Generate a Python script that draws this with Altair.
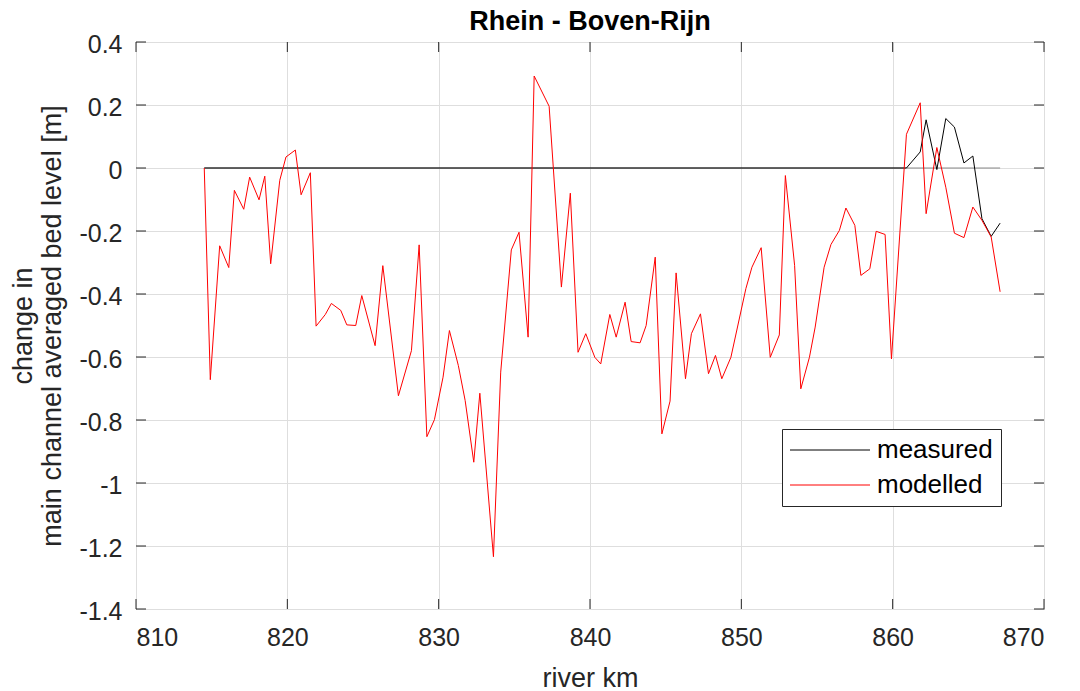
import altair as alt
import pandas as pd

# ---------------- data ----------------
km_model = [
    814.51, 814.91, 815.53, 816.13, 816.50, 817.12, 817.51, 818.13, 818.51, 818.90,
    819.50, 819.91, 820.53, 820.91, 821.52, 821.90, 822.51, 822.91, 823.53, 823.93,
    824.52, 824.92, 825.80, 826.31, 827.34, 828.20, 828.71, 829.22, 829.72, 830.29,
    830.71, 831.30, 831.75, 832.32, 832.72, 833.62, 834.10, 834.80, 835.31, 835.91,
    836.31, 837.30, 838.11, 838.70, 839.21, 839.72, 840.32, 840.71, 841.31, 841.73,
    842.32, 842.72, 843.31, 843.71, 844.31, 844.75, 845.29, 845.69, 846.31, 846.70,
    847.30, 847.83, 848.29, 848.71, 849.31, 850.30, 850.70, 851.31, 851.91, 852.51,
    852.91, 853.52, 853.93, 854.50, 854.88, 855.47, 855.92, 856.48, 856.91, 857.50,
    857.90, 858.49, 858.91, 859.50, 859.92, 860.91, 861.82, 862.21, 862.92, 863.51,
    864.08, 864.71, 865.30, 865.90, 866.51, 867.10,
]
val_model = [
    0.000, -0.672, -0.247, -0.316, -0.071, -0.131, -0.029, -0.101, -0.026, -0.304,
    -0.039, 0.035, 0.057, -0.085, -0.015, -0.502, -0.465, -0.430, -0.452, -0.498,
    -0.500, -0.405, -0.564, -0.310, -0.723, -0.580, -0.244, -0.853, -0.799, -0.664,
    -0.516, -0.627, -0.738, -0.934, -0.715, -1.234, -0.648, -0.260, -0.204, -0.537,
    0.292, 0.196, -0.378, -0.080, -0.585, -0.526, -0.601, -0.622, -0.465, -0.537,
    -0.426, -0.551, -0.555, -0.500, -0.283, -0.844, -0.740, -0.333, -0.669, -0.526,
    -0.463, -0.653, -0.595, -0.669, -0.601, -0.383, -0.315, -0.253, -0.601, -0.530,
    -0.024, -0.309, -0.701, -0.601, -0.505, -0.315, -0.243, -0.198, -0.127, -0.182,
    -0.341, -0.320, -0.201, -0.211, -0.606, 0.107, 0.207, -0.145, 0.065, -0.061,
    -0.207, -0.221, -0.124, -0.166, -0.219, -0.393,
]
km_meas = [814.51, 860.91, 861.82, 862.21, 862.92, 863.51, 864.08, 864.71,
           865.30, 865.90, 866.51, 867.10]
val_meas = [0.0, 0.0, 0.051, 0.153, -0.005, 0.157, 0.130, 0.016,
            0.038, -0.161, -0.217, -0.175]
km_zero = [814.51, 867.10]
val_zero = [0.0, 0.0]

x_ticks = [810, 820, 830, 840, 850, 860, 870]
y_ticks = [-1.4, -1.2, -1.0, -0.8, -0.6, -0.4, -0.2, 0.0, 0.2, 0.4]
series_names = ["measured", "modelled"]
series_colors = ["#000000", "#ff0000"]

# ---------------- layout ----------------
W, H = 908, 567
FONT = "Liberation Sans"
AX = "#262626"

rows = []
for i, (k, v) in enumerate(zip(km_meas, val_meas)):
    rows.append({"km": k, "v": v, "series": "measured", "o": i})
for i, (k, v) in enumerate(zip(km_model, val_model)):
    rows.append({"km": k, "v": v, "series": "modelled", "o": i})
lines_df = pd.DataFrame(rows)
zero_df = pd.DataFrame({"km": km_zero, "v": val_zero})
xt_df = pd.DataFrame({"km": x_ticks})
yt_df = pd.DataFrame({"v": y_ticks})

xscale = alt.Scale(domain=[810, 870], nice=False, zero=False)
yscale = alt.Scale(domain=[-1.4, 0.4], nice=False, zero=False)

x_axis = alt.Axis(
    values=x_ticks, title="river km", format="d", grid=True, ticks=False, tickSize=0,
    domain=False, labelPadding=36, labelBaseline="alphabetic",
    titleBaseline="alphabetic", titleY=77, titleX=W / 2,
)
y_axis = alt.Axis(
    values=y_ticks,
    title=["change in", "main channel averaged bed level [m]"],
    labelExpr="replace(format(datum.value, '.1~f'), '\u2212', '-')",
    grid=True, ticks=False, tickSize=0, domain=False, labelPadding=14,
    labelOffset=2, titleAngle=270, titleBaseline="alphabetic", titleAlign="center",
    titleX=-105, titleY=H / 2, titleLineHeight=29,
)

zero_line = alt.Chart(zero_df).mark_line(color="#8a8a8a", strokeWidth=1).encode(
    x=alt.X("km:Q", scale=xscale, axis=x_axis),
    y=alt.Y("v:Q", scale=yscale, axis=y_axis),
)

lines = alt.Chart(lines_df).mark_line(strokeWidth=1).encode(
    x=alt.X("km:Q", scale=xscale),
    y=alt.Y("v:Q", scale=yscale),
    order="o:Q",
    color=alt.Color(
        "series:N",
        scale=alt.Scale(domain=series_names, range=series_colors),
        legend=alt.Legend(
            title=None, orient="none", legendX=646, legendY=387,
            symbolType="M-4,0H4", symbolSize=400, symbolStrokeWidth=1,
            symbolOffset=27,
            labelFont=FONT, labelFontSize=26, labelColor="#000000",
            labelOffset=34, rowPadding=9, padding=8,
            strokeColor=AX, fillColor="white",
        ),
    ),
)

tick_x_bottom = alt.Chart(xt_df).mark_rule(color=AX, strokeWidth=1).encode(
    x=alt.X("km:Q", scale=xscale), y=alt.value(H), y2=alt.value(H - 10)
)
tick_x_top = alt.Chart(xt_df).mark_rule(color=AX, strokeWidth=1).encode(
    x=alt.X("km:Q", scale=xscale), y=alt.value(0), y2=alt.value(10)
)
tick_y_left = alt.Chart(yt_df).mark_rule(color=AX, strokeWidth=1).encode(
    y=alt.Y("v:Q", scale=yscale), x=alt.value(0), x2=alt.value(10)
)
tick_y_right = alt.Chart(yt_df).mark_rule(color=AX, strokeWidth=1).encode(
    y=alt.Y("v:Q", scale=yscale), x=alt.value(W), x2=alt.value(W - 10)
)

chart = alt.layer(
    zero_line, tick_x_bottom, tick_x_top, tick_y_left, tick_y_right, lines
).properties(
    width=W, height=H,
    title=alt.TitleParams(
        "Rhein - Boven-Rijn", font=FONT, fontSize=27, fontWeight="bold",
        color="#000000", anchor="middle", baseline="alphabetic", offset=10, dy=35,
    ),
    padding={"left": 136, "top": 42, "right": 36, "bottom": 82},
    autosize=alt.AutoSizeParams(type="none"),
    background="white",
).configure_view(
    stroke=AX, strokeWidth=1
).configure_axis(
    labelFont=FONT, labelFontSize=25, labelColor=AX,
    titleFont=FONT, titleFontSize=27, titleColor=AX, titleFontWeight="normal",
    gridColor="#dedede", gridWidth=1,
)

chart.save("out.html", embed_options={"renderer": "svg", "actions": False})
